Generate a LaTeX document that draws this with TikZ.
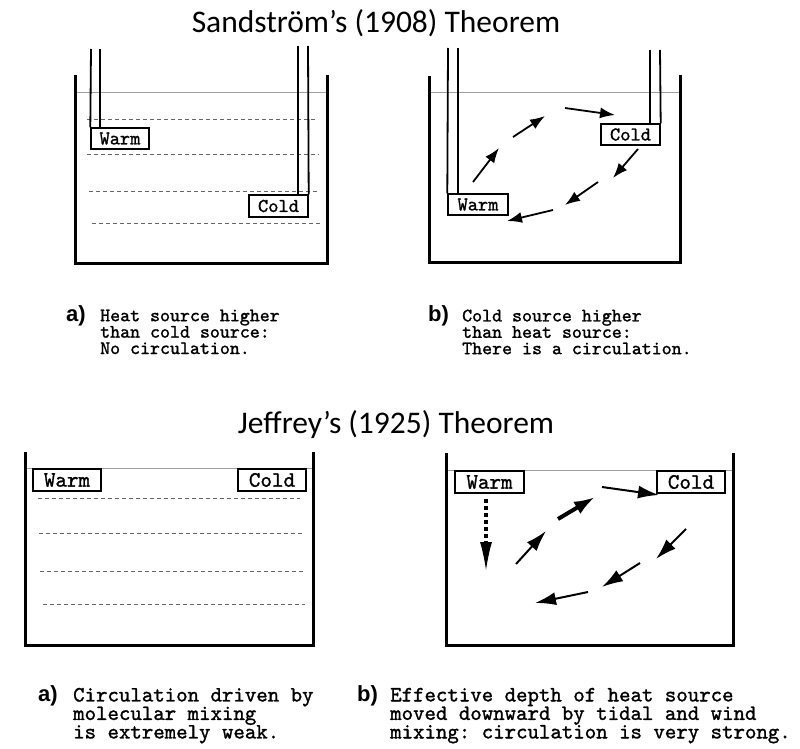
\documentclass[tikz,border=0pt]{standalone}
\usepackage{fontspec}
\setmainfont{Carlito}
\newfontfamily\labfont{Liberation Sans}
\newfontfamily\capfont[Extension=.otf, FakeBold=1.3]{lmmono10-regular}
\usetikzlibrary{arrows.meta}
\begin{document}
\frenchspacing
\setlength{\lineskiplimit}{-50pt}
\begin{tikzpicture}[x=1pt,y=-1pt,
  wall/.style={line width=3pt, line join=miter},
  water/.style={gray!75, line width=0.9pt},
  pipe/.style={line width=1.8pt},
  lev/.style={gray!80!black, line width=1pt, dash pattern=on 4pt off 3pt},
  srcbox/.style={draw, line width=1.4pt, fill=white, inner sep=0pt, font=\capfont\fontsize{19.5}{19.5}\selectfont},
  srcbig/.style={draw, line width=1.4pt, fill=white, inner sep=0pt, font=\capfont\fontsize{22}{22}\selectfont, minimum width=68pt, minimum height=22pt},
  flow/.style={line width=1.8pt, -{Latex[length=15pt,width=11pt]}},
  flowb/.style={line width=2pt, -{Latex[length=21pt,width=13pt]}},
  ttl/.style={font=\fontsize{31.5}{31.5}\selectfont, inner sep=0pt, anchor=base},
  capt/.style={font=\capfont\fontsize{19}{16.4}\selectfont, inner sep=0pt, anchor=north west, align=left},
  captb/.style={font=\capfont\fontsize{21.8}{18.5}\selectfont, inner sep=0pt, anchor=north west, align=left},
  lab/.style={font=\labfont\bfseries\fontsize{22}{22}\selectfont, inner sep=0pt, anchor=base west, text height=11pt, text depth=3pt}
]
\useasboundingbox (0,0) rectangle (800,749);
\fill[white] (0,0) rectangle (800,749);

% ---------- titles ----------
\node[ttl] (t1) at (376,33) {Sandström’s (1908) Theorem};
\node[ttl] (t2) at (396,433) {Jeffrey’s (1925) Theorem};

% ---------- top-left: Sandstrom a ----------
\draw[lev] (87,120) -- (317,120);
\draw[lev] (87,154) -- (319,154);
\draw[lev] (89,191) -- (319,191);
\draw[lev] (92,223) -- (321,223);
\draw[water] (75,92) -- (327,92);
\draw[wall] (75,75) -- (75,263) -- (327,263) -- (327,75);
\node[srcbox, minimum width=58pt, minimum height=21pt] (wA) at (120,138.5) {Warm};
\node[srcbox, minimum width=59pt, minimum height=22pt] (cA) at (278.5,206) {Cold};
\draw[pipe] (91,49) -- (wA.north west);
\draw[pipe] (100,49) -- (100,128);
\draw[pipe] (298,46) -- (298,195);
\draw[pipe] (308,46) -- (cA.north east);

% ---------- top-right: Sandstrom b ----------
\draw[water] (429,92) -- (680,92);
\draw[wall] (429,76) -- (429,262) -- (680,262) -- (680,75);
\node[srcbox, minimum width=60pt, minimum height=21pt] (wB) at (478,204.5) {Warm};
\node[srcbox, minimum width=59pt, minimum height=21pt] (cB) at (630.5,134.5) {Cold};
\draw[pipe] (448,48) -- (wB.north west);
\draw[pipe] (458,48) -- (458,194);
\draw[pipe] (650,50) -- (650,124);
\draw[pipe] (660,50) -- (cB.north east);
\coordinate (b1s) at (473,182); \coordinate (b1e) at (499,148);
\coordinate (b2s) at (513,137); \coordinate (b2e) at (545,116);
\coordinate (b3s) at (565,108); \coordinate (b3e) at (615,115);
\coordinate (b4s) at (638,149); \coordinate (b4e) at (613,178);
\coordinate (b5s) at (598,182); \coordinate (b5e) at (565,205);
\coordinate (b6s) at (553,210); \coordinate (b6e) at (507,221);
\foreach \i in {1,...,6} \draw[flow] (b\i s) -- (b\i e);

% ---------- bottom-left: Jeffreys a ----------
\draw[lev] (38,498) -- (300,498);
\draw[lev] (39,533) -- (302,533);
\draw[lev] (40,571) -- (303,571);
\draw[lev] (43,604) -- (305,604);
\draw[water] (25,468) -- (313,468);
\draw[wall] (25,452) -- (25,645) -- (313,645) -- (313,452);
\node[srcbig] (wC) at (67,480) {Warm};
\node[srcbig] (cC) at (272,480) {Cold};

% ---------- bottom-right: Jeffreys b ----------
\draw[water] (446,470) -- (733,470);
\draw[wall] (446,453) -- (446,645) -- (733,645) -- (733,453);
\node[srcbig, minimum width=69pt] (wD) at (489.5,482) {Warm};
\node[srcbig] (cD) at (691,482) {Cold};
\coordinate (dd) at (486,570);
\draw[line width=3.5pt, dash pattern=on 3.5pt off 3.5pt] (486,499) -- (486,544);
\draw[line width=1pt, -{Latex[length=28pt,width=12pt]}] (486,543) -- (dd);
\coordinate (d1s) at (516,564); \coordinate (d1e) at (546,531);
\coordinate (d3s) at (602,487); \coordinate (d3e) at (659,495);
\coordinate (d4s) at (686,529); \coordinate (d4e) at (656,559);
\coordinate (d5s) at (640,563); \coordinate (d5e) at (602,587);
\coordinate (d6s) at (588,592); \coordinate (d6e) at (535,603);
\coordinate (d2s) at (558,519); \coordinate (d2e) at (595,497);
\foreach \i in {1,3,4,5,6} \draw[flowb] (d\i s) -- (d\i e);
\draw[line width=4pt, -{Latex[length=21pt,width=14pt]}] (d2s) -- (d2e);

% ---------- captions ----------
\node[lab] (la) at (66,321) {a)};
\node[capt] (ca) at (100,309.4) {Heat source higher\\than cold source:\\No circulation.};

\node[lab] (lb) at (428,321) {b)};
\node[capt] (cb) at (462,309.4) {Cold source higher\\than heat source:\\There is a circulation.};

\node[lab] (lc) at (38,701) {a)};
\node[captb] (cc) at (73,687.7) {Circulation driven by\\molecular mixing\\is extremely weak.};

\node[lab] (ld) at (357,701) {b)};
\node[captb] (cd) at (390,687.7) {Effective depth of heat source\\moved downward by tidal and wind\\mixing: circulation is very strong.};
\end{tikzpicture}
\end{document}
